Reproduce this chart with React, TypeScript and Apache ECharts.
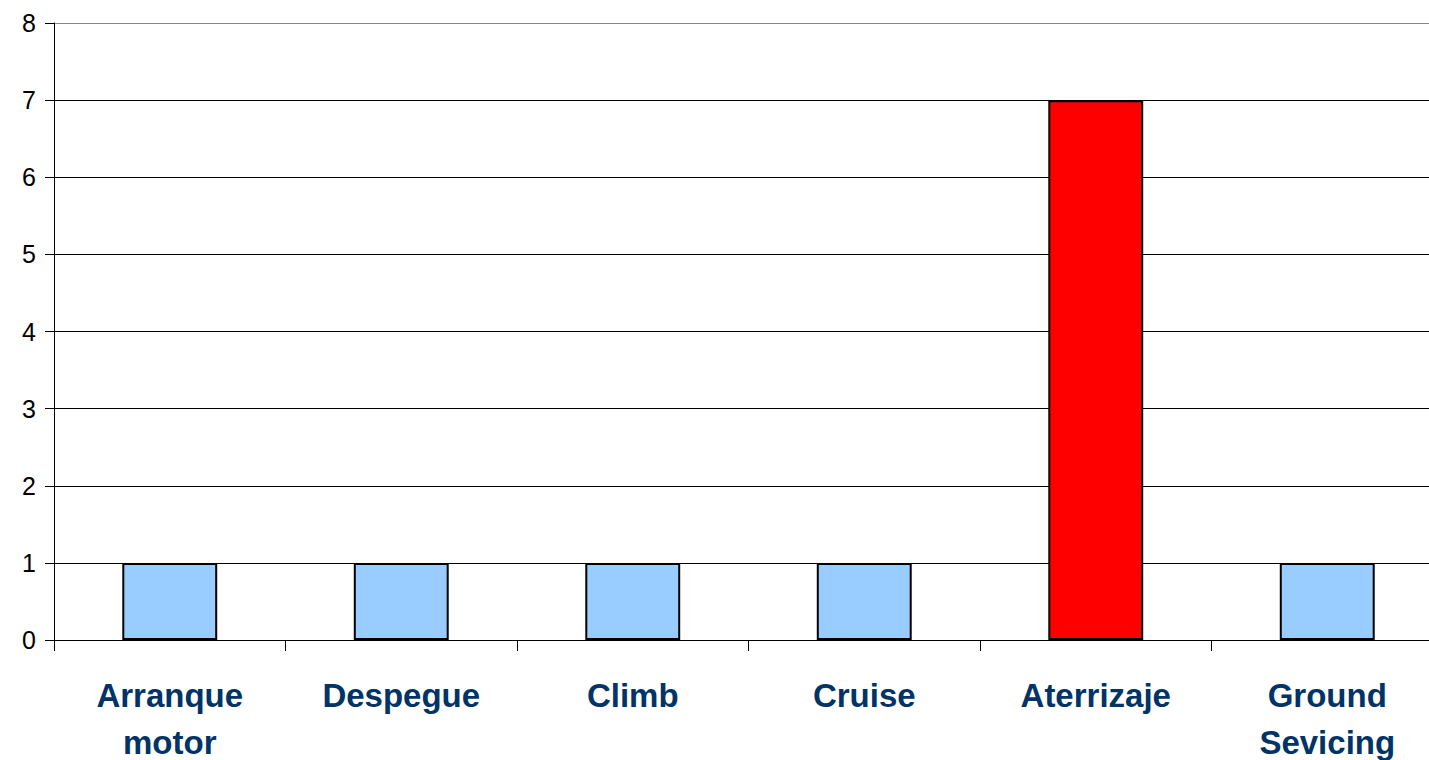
import React, { useEffect, useRef } from "react";
import * as echarts from "echarts";

const categories = ["Arranque\nmotor", "Despegue", "Climb", "Cruise", "Aterrizaje", "Ground\nSevicing"];
const values = [1, 1, 1, 1, 7, 1];
const barColors = ["#99ccff", "#99ccff", "#99ccff", "#99ccff", "#ff0000", "#99ccff"];
const yTicks = { min: 0, max: 8, interval: 1 };

export default function App() {
  const ref = useRef<HTMLDivElement>(null);
  useEffect(() => {
    document.body.style.margin = "0";
    const chart = echarts.init(ref.current!, undefined, { renderer: "svg" });
    const gridColors = ["#000", "#000", "#000", "#000", "#000", "#000", "#000", "#000", "#888"];
    chart.setOption({
      animation: false,
      backgroundColor: "#fff",
      grid: { left: 54, right: -14, top: 23, bottom: 120, containLabel: false, outerBoundsMode: "none" },
      xAxis: {
        type: "category",
        data: categories,
        axisLine: { show: true, lineStyle: { color: "#000", width: 1 } },
        axisTick: { show: true, length: 11, lineStyle: { color: "#000" } },
        axisLabel: {
          color: "#003366",
          fontFamily: "Liberation Sans, Arial, sans-serif",
          fontWeight: "bold",
          fontSize: 33,
          lineHeight: 47,
          margin: 32,
          interval: 0,
        },
      },
      yAxis: {
        type: "value",
        min: yTicks.min,
        max: yTicks.max,
        interval: yTicks.interval,
        axisLine: { show: true, lineStyle: { color: "#000", width: 1 } },
        axisTick: { show: true, length: 9, lineStyle: { color: "#000" } },
        splitLine: { show: true, lineStyle: { color: gridColors, width: 1 } },
        axisLabel: {
          color: "#000",
          fontFamily: "Liberation Sans, Arial, sans-serif",
          fontSize: 25,
          margin: 18,
        },
      },
      series: [
        {
          type: "bar",
          data: values.map((v, i) => ({ value: v, itemStyle: { color: barColors[i] } })),
          barWidth: "41%",
          itemStyle: { borderColor: "#000", borderWidth: 2 },
        },
      ],
    });
    return () => chart.dispose();
  }, []);
  return <div ref={ref} style={{ width: 1429, height: 760 }} />;
}
